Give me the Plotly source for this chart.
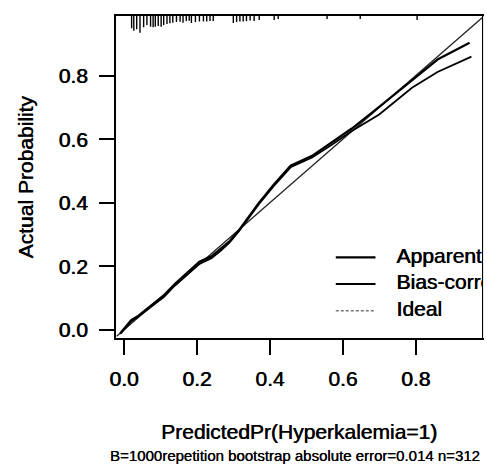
import plotly.graph_objects as go

# ---------------- data ----------------
apparent_x = [-0.01, 0.02, 0.04, 0.07, 0.11, 0.14, 0.175, 0.207, 0.24, 0.266, 0.29, 0.316,
              0.37, 0.41, 0.457, 0.516, 0.57, 0.625, 0.70, 0.79, 0.86, 0.948]
apparent_y = [-0.01, 0.031, 0.045, 0.073, 0.110, 0.145, 0.183, 0.215, 0.232, 0.257, 0.28, 0.315,
              0.400, 0.456, 0.517, 0.548, 0.590, 0.634, 0.702, 0.787, 0.851, 0.904]

bias_x = [-0.01, 0.02, 0.04, 0.07, 0.11, 0.14, 0.175, 0.207, 0.24, 0.266, 0.29, 0.316,
          0.37, 0.41, 0.457, 0.516, 0.57, 0.625, 0.70, 0.79, 0.86, 0.953]
bias_y = [-0.012, 0.027, 0.042, 0.068, 0.104, 0.140, 0.176, 0.208, 0.226, 0.250, 0.276, 0.312,
          0.396, 0.452, 0.512, 0.543, 0.583, 0.626, 0.678, 0.762, 0.812, 0.860]

ideal_x = [-0.02, 1.0]
ideal_y = [-0.02, 1.0]

# distribution of predicted probabilities (rug on top), relative frequency
rug_x = [0.021, 0.027, 0.035, 0.044, 0.054, 0.063, 0.073, 0.080, 0.086, 0.094, 0.102, 0.109,
         0.118, 0.126, 0.134, 0.144, 0.154, 0.162, 0.171, 0.179, 0.185, 0.196, 0.207, 0.218,
         0.227, 0.236, 0.245, 0.300, 0.309, 0.318, 0.327, 0.336, 0.346, 0.357, 0.371, 0.412,
         0.423, 0.557, 0.648, 0.804]
rug_freq = [12.3, 14.7, 13.3, 16.7, 11.3, 9, 10.7, 11.3, 10.7, 10, 10.7, 9,
            8, 7.3, 6.7, 6, 5.7, 6.7, 5, 4.7, 7, 6, 5.5, 5.5,
            5.5, 5, 5, 7, 6, 5.5, 5.5, 5, 4.5, 5, 4, 4,
            3, 3, 3, 4]

x_ticks = [0.0, 0.2, 0.4, 0.6, 0.8]
y_ticks = [0.0, 0.2, 0.4, 0.6, 0.8]

legend_labels = ["Apparent", "Bias-corrected", "Ideal"]

x_title = "PredictedPr(Hyperkalemia=1)"
y_title = "Actual Probability"
subtitle = "B=1000repetition bootstrap absolute error=0.014 n=312"

# ---------------- figure ----------------
FONT = "Liberation Sans, Arial, sans-serif"
HEAVY = "0.6px 0px 0px black"
X_RANGE = [-0.0218, 0.982]
Y_RANGE = [-0.0252, 0.988]

fig = go.Figure()

# rug at top
rug_scale = 1.0 / 317.9
rx, ry = [], []
for xv, fv in zip(rug_x, rug_freq):
    rx += [xv, xv, None]
    ry += [Y_RANGE[1], Y_RANGE[1] - fv * rug_scale, None]
fig.add_trace(go.Scatter(x=rx, y=ry, mode="lines",
                         line=dict(color="black", width=1.4), hoverinfo="skip"))

fig.add_trace(go.Scatter(x=ideal_x, y=ideal_y, mode="lines",
                         line=dict(color="#222", width=1.3), hoverinfo="skip"))
fig.add_trace(go.Scatter(x=bias_x, y=bias_y, mode="lines",
                         line=dict(color="black", width=1.8), hoverinfo="skip"))
fig.add_trace(go.Scatter(x=apparent_x, y=apparent_y, mode="lines",
                         line=dict(color="black", width=2.2), hoverinfo="skip"))

# manual legend (in plot-area fractions on an overlay axis)
leg_line_x = [0.6005, 0.709]
leg_text_x = 0.766
leg_y = [0.2506, 0.1677, 0.0848]
leg_styles = [dict(color="black", width=2.2),
              dict(color="black", width=1.8),
              dict(color="#777", width=1.6, dash="3px,2px")]
for lab, yy, st in zip(legend_labels, leg_y, leg_styles):
    fig.add_trace(go.Scatter(x=leg_line_x, y=[yy, yy], mode="lines", line=st,
                             xaxis="x2", yaxis="y2", hoverinfo="skip"))
fig.add_trace(go.Scatter(x=[leg_text_x] * 3, y=leg_y, mode="text", text=legend_labels,
                         textposition="middle right",
                         textfont=dict(family=FONT, size=21, color="black", shadow=HEAVY),
                         xaxis="x2", yaxis="y2", cliponaxis=True, hoverinfo="skip"))

axis_common = dict(showline=True, linecolor="black", linewidth=2, mirror=True,
                   ticks="outside", ticklen=15, tickwidth=1.5, tickcolor="black",
                   showgrid=False, zeroline=False,
                   tickfont=dict(family=FONT, size=21, color="black", shadow=HEAVY))

fig.update_layout(
    width=487, height=466,
    margin=dict(l=116, r=3, t=16, b=128),
    paper_bgcolor="white", plot_bgcolor="white",
    showlegend=False,
    xaxis=dict(range=X_RANGE, tickvals=x_ticks, ticktext=[f"{v:.1f}" for v in x_ticks],
               ticklabelstandoff=6, **axis_common),
    yaxis=dict(range=Y_RANGE, tickvals=y_ticks, ticktext=[f"{v:.1f}" for v in y_ticks],
               ticklabelstandoff=7, **axis_common),
    xaxis2=dict(range=[0, 1], overlaying="x", anchor="y2", visible=False),
    yaxis2=dict(range=[0, 1], overlaying="y", anchor="x2", visible=False),
    shapes=[
        # mask legend text running past the right edge of the plotting box
        dict(type="rect", xref="paper", yref="paper", x0=1.003, x1=1.05, y0=0.0, y1=0.999,
             fillcolor="white", line=dict(width=0), layer="above"),
    ],
    annotations=[
        dict(text=x_title, xref="paper", yref="paper", x=0.5, y=-0.29,
             xanchor="center", yanchor="middle", showarrow=False,
             font=dict(family=FONT, size=21, color="black", shadow=HEAVY)),
        dict(text=subtitle, xref="paper", yref="paper", x=0.49, y=-0.366,
             xanchor="center", yanchor="middle", showarrow=False,
             font=dict(family=FONT, size=15, color="black", shadow="0.3px 0px 0px black")),
        dict(text=y_title, xref="paper", yref="paper", x=-0.25, y=0.5,
             xanchor="center", yanchor="middle", showarrow=False, textangle=-90,
             font=dict(family=FONT, size=21, color="black", shadow=HEAVY)),
    ],
)

fig.write_html("out.html")
